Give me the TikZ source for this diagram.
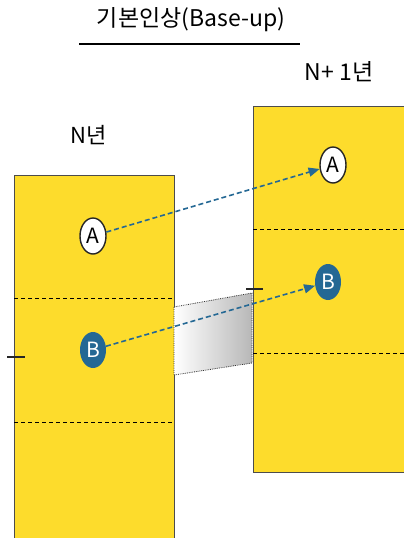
\documentclass[tikz,border=0pt]{standalone}
\usepackage{fontspec}
\setmainfont{Noto Sans CJK KR}
\usetikzlibrary{positioning,arrows.meta,shapes.geometric}
\definecolor{payyellow}{RGB}{253,220,44}
\definecolor{payblue}{RGB}{36,104,148}
\begin{document}
\begin{tikzpicture}[x=1pt,y=-1pt,font=\fontsize{22}{24}\selectfont,
  year/.style={draw=black!70,fill=payyellow,line width=.9pt,anchor=north west},
  band/.style={dash pattern=on 4pt off 3pt,line width=.8pt},
  grade/.style={ellipse,inner sep=0pt,minimum width=26pt,minimum height=36pt,font=\fontsize{21}{21}\selectfont},
  gradeA/.style={grade,draw=black!85,line width=1.4pt,fill=white},
  gradeB/.style={grade,fill=payblue,text=white},
  link/.style={payblue,line width=1.6pt,dash pattern=on 5pt off 3pt,-{Triangle[length=11pt,width=9pt]}},
  tick/.style={line width=1.6pt,black!85}]
\useasboundingbox (0,0) rectangle (404,538);
\clip (0,0) rectangle (404,538);
% title
\node[font=\fontsize{23}{24}\selectfont] (title) at (191,20) {기본인상(Base-up)};
\draw[line width=1.2pt] (79,44) -- (300,44);
% the two years
\node[year,minimum width=160pt,minimum height=380pt] (nyear) at (14,175) {};
\node[year,minimum width=170pt,minimum height=366pt] (nnext) at (253,106) {};
\node (nlabel) at (89,135) {N년};
\node[font=\fontsize{23}{24}\selectfont] (nnextlabel) at (339,72) {N+ 1년};
\draw[band] (14,298) -- (174,298);
\draw[band] (14,422) -- (174,422);
\draw[band] (253,229) -- (404,229);
\draw[band] (253,353) -- (404,353);
\draw[tick] (7,357) -- (25,357);
\draw[tick] (246,289) -- (263,289);
% raise between the years
\draw[densely dotted,line width=.8pt,black!80,left color=white,right color=black!28]
  (174,307) -- (252,293) -- (252,363) -- (174,375) -- cycle;
% grades
\node[gradeA] (aold) at (93,236) {A};
\node[gradeB] (bold) at (93,350) {B};
\node[gradeA] (anew) at (333,165) {A};
\node[gradeB] (bnew) at (328,282) {B};
\draw[link] (aold) -- (anew);
\draw[link] (bold) -- (bnew);
\end{tikzpicture}
\end{document}
